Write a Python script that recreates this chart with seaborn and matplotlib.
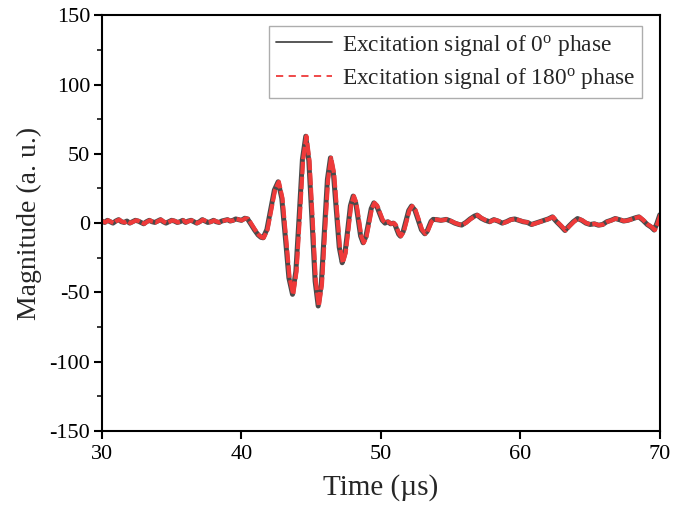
import numpy as np
import pandas as pd
import matplotlib
matplotlib.use("Agg")
import matplotlib.pyplot as plt
from matplotlib.lines import Line2D
from matplotlib.ticker import MultipleLocator
import seaborn as sns

# ---- data ----
# quiet baseline before the wave packet (sampled every 0.2 us from 30 to 40)
base_start, base_step = 30.0, 0.2
base_mag = [1.5, 0.5, 2, 1, 0, 1.5, 2.5, 1, 0.5, 1.5, 0, 1, 2, 1.5, 0.5, -0.5, 1,
            2, 1, 0.5, 1.5, 2.5, 1, 0, 1, 2, 1.5, 0.5, 1, 2, 0.5, 1.5, 2, 1, 0, 1,
            2.5, 1.5, 0.5, 1, 2, 1, 0.5, 1.5, 2, 2.5, 1.5, 2, 3, 2.5, 2]

packet_time = [40.25, 40.45, 40.7, 40.95, 41.2, 41.4, 41.56, 41.83, 42.10, 42.37,
               42.64, 42.90, 43.16, 43.41, 43.67, 43.91, 44.15, 44.38, 44.62,
               44.84, 45.07, 45.29, 45.51, 45.73, 45.95, 46.17, 46.39, 46.60,
               46.81, 47.02, 47.23, 47.43, 47.63, 47.82, 48.02, 48.20, 48.38,
               48.55, 48.73, 48.92, 49.12, 49.31, 49.50, 49.70, 49.90, 50.10,
               50.30, 50.50, 50.70, 50.90, 51.03, 51.15, 51.28, 51.40, 51.60,
               51.80, 52.00, 52.20, 52.44, 52.68, 52.91, 53.15, 53.30, 53.45,
               53.60]
packet_mag = [3.5, 3, -1, -5, -8.5, -10.2, -10.6, -4.7, 9.6, 23.9,
              29.8, 17.9, -10.8, -39.5, -51.4, -34.7, 5.6, 46.0, 62.7,
              44.8, 1.5, -41.9, -59.8, -44.2, -6.3, 31.5, 47.1, 36.0,
              9.3, -17.5, -28.6, -21.6, -4.6, 12.5, 19.5, 14.6, 2.6,
              -9.3, -14.2, -10.0, 0.2, 10.4, 14.6, 12.5, 7.3, 2.1,
              0, 1, -0.5, 0, -1.4, -4.7, -8.0, -9.4, -6.2,
              1.5, 9.1, 12.3, 9.4, 2.3, -4.8, -7.7, -6.2, -2.5,
              1.2]

tail_time = [53.75, 54.0, 54.3, 54.7, 55.0, 55.3, 55.6, 55.8, 56.1, 56.4, 56.7,
             56.9, 57.2, 57.5, 57.8, 58.1, 58.4, 58.7, 59.0, 59.3, 59.6, 59.9,
             60.2, 60.5, 60.8, 61.1, 61.4, 61.7, 62.0, 62.3, 62.6, 62.9, 63.2,
             63.5, 63.8, 64.1, 64.4, 64.7, 65.0, 65.3, 65.6, 65.9, 66.2, 66.5,
             66.8, 67.1, 67.4, 67.7, 68.0, 68.3, 68.5, 68.8, 69.1, 69.4, 69.6,
             69.8, 70.0]
tail_mag = [2.7, 2.5, 2, 2.7, 1.5, 0, -1, -1.4, 0.5, 3, 5,
            5.8, 3.5, 2, 1, 2.5, 1.5, 0, 1, 2.5, 3, 2,
            1, 0.5, -1, 0, 1, 2, 3, 4.5, 1, -2, -5.3,
            -2, 1, 3.3, 2, 0, -1, -0.5, -1.5, -1, 1, 2,
            3.3, 2.5, 1.5, 2, 3, 4, 4.5, 2, -1, -3, -5,
            0, 6]

delay_180 = 0.05  # the 180 deg trace sits a hair later than the 0 deg trace

label_0 = r"Excitation signal of 0$^{\mathrm{o}}$ phase"
label_180 = r"Excitation signal of 180$^{\mathrm{o}}$ phase"

base_time = list(base_start + base_step * np.arange(len(base_mag)))
time_0 = np.array(base_time + packet_time + tail_time)
mag_0 = np.array(base_mag + packet_mag + tail_mag)

df0 = pd.DataFrame({"time": time_0, "mag": mag_0})
df180 = pd.DataFrame({"time": time_0 + delay_180, "mag": mag_0})

# ---- styling ----
sns.set_style("ticks")
plt.rcParams["font.family"] = ["Liberation Serif", "DejaVu Serif"]
plt.rcParams["mathtext.fontset"] = "custom"
plt.rcParams["mathtext.rm"] = "Liberation Serif"
plt.rcParams["mathtext.it"] = "Liberation Serif:italic"
plt.rcParams["axes.unicode_minus"] = False

fig = plt.figure(figsize=(6.88, 5.08), dpi=100)
ax = fig.add_axes([0.148, 0.1516, 0.811, 0.8184])

black = "#4a4a4a"
red = "#ee3a3a"
sns.lineplot(data=df0, x="time", y="mag", ax=ax, color=black, lw=3.6,
             estimator=None, sort=False)
sns.lineplot(data=df180, x="time", y="mag", ax=ax, color=red, lw=3.0,
             linestyle=(0, (3, 0.6)), estimator=None, sort=False)

ax.set_xlim(30, 70)
ax.set_ylim(-150, 150)
ax.xaxis.set_major_locator(MultipleLocator(10))
ax.yaxis.set_major_locator(MultipleLocator(50))
ax.yaxis.set_minor_locator(MultipleLocator(25))
ax.tick_params(axis="both", which="major", direction="out", length=6, width=1.5,
               labelsize=16, color="black", labelcolor="black")
ax.tick_params(axis="x", which="major", pad=4)
ax.tick_params(axis="y", which="major", pad=2.5)
ax.tick_params(axis="y", which="minor", direction="out", length=3.5, width=1.3)
for s in ax.spines.values():
    s.set_linewidth(1.5)
    s.set_color("black")

ax.set_xlabel("Time (µs)", fontsize=21, labelpad=7)
ax.set_ylabel("Magnitude (a. u.)", fontsize=20, labelpad=5)

handles = [Line2D([], [], color=black, lw=1.3),
           Line2D([], [], color=red, lw=1.3, linestyle=(0, (4, 3)))]
leg = ax.legend(handles, [label_0, label_180], loc="upper right",
                bbox_to_anchor=(0.968, 0.975), fontsize=16.8, frameon=True,
                fancybox=False, edgecolor="#999999", handlelength=2.4,
                handletextpad=0.4, borderpad=0.3, labelspacing=0.35,
                borderaxespad=0.0)
leg.get_frame().set_linewidth(1.0)

fig.savefig("out.png", dpi=100)
